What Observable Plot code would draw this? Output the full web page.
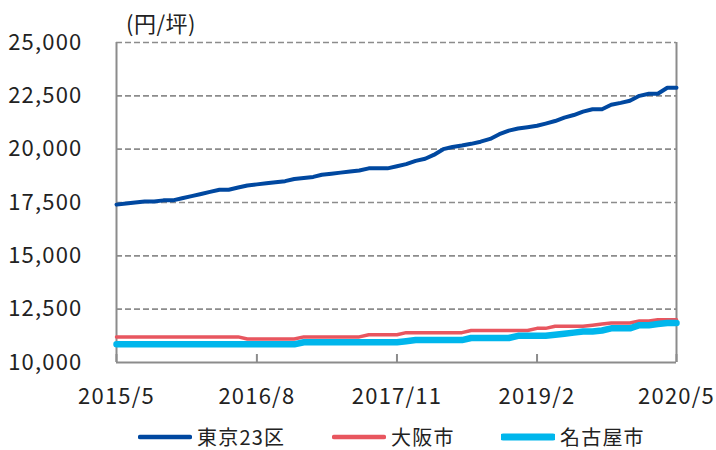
<!DOCTYPE html>
<html><head><meta charset="utf-8">
<script src="https://cdn.jsdelivr.net/npm/d3@7"></script>
<script src="https://cdn.jsdelivr.net/npm/@observablehq/plot@0.6"></script>
<style>
body{margin:0;background:#fff;font-family:"Noto Sans CJK JP",sans-serif;}
#wrap{position:relative;width:716px;height:450px;overflow:hidden;}
#unit{position:absolute;left:126px;top:11px;font-size:22px;line-height:1;color:#222;letter-spacing:0.5px;}
#legend{position:absolute;left:0;top:425px;width:716px;height:24px;font-size:20px;line-height:24px;color:#222;letter-spacing:1.2px;}
.item{position:absolute;top:0;height:24px;display:flex;align-items:center;gap:5px;white-space:nowrap;}
</style></head><body>
<div id="wrap"><div id="chart"></div><div id="unit">(円/坪)</div><div id="legend"></div></div>
<script>
const startMonth = "2015-05-01";
const monthCount = 61;
const seriesNames = ["東京23区", "大阪市", "名古屋市"];
const tokyo = [17400,17450,17500,17550,17550,17600,17600,17700,17800,17900,18000,18100,18100,18200,18300,18350,18400,18450,18500,18600,18650,18700,18800,18850,18900,18950,19000,19100,19100,19100,19200,19300,19450,19550,19730,20000,20100,20170,20250,20350,20480,20700,20870,20970,21030,21100,21200,21320,21480,21600,21760,21870,21870,22080,22170,22270,22500,22600,22600,22880,22880];
const osaka = [11200,11200,11200,11200,11200,11200,11200,11200,11200,11200,11200,11200,11200,11200,11100,11100,11100,11100,11100,11100,11200,11200,11200,11200,11200,11200,11200,11300,11300,11300,11300,11400,11400,11400,11400,11400,11400,11400,11500,11500,11500,11500,11500,11500,11500,11600,11600,11700,11700,11700,11700,11750,11800,11850,11850,11850,11950,11950,12000,12000,12000];
const nagoya = [10850,10850,10850,10850,10850,10850,10850,10850,10850,10850,10850,10850,10850,10850,10850,10850,10850,10850,10850,10850,10950,10950,10950,10950,10950,10950,10950,10950,10950,10950,10950,11000,11050,11050,11050,11050,11050,11050,11150,11150,11150,11150,11150,11250,11250,11250,11250,11300,11350,11400,11450,11450,11500,11600,11600,11600,11750,11750,11800,11850,11850];
const yTicks = [10000,12500,15000,17500,20000,22500,25000];
const xTickLabels = ["2015/5","2016/8","2017/11","2019/2","2020/5"];
const colors = ["#0048a0","#e8565f","#00b6ec"];
const widths = [4, 3.5, 6.5];
const legendLeft = [138, 332, 501];

const start = new Date(startMonth + "T00:00:00Z");
const dates = d3.utcMonth.range(start, d3.utcMonth.offset(start, monthCount));
const xTickDates = xTickLabels.map(s => { const [y, m] = s.split("/").map(Number); return new Date(Date.UTC(y, m - 1, 1)); });
const valuesBySeries = [tokyo, osaka, nagoya];
const rows = valuesBySeries.flatMap((vals, k) => vals.map((v, i) => ({date: dates[i], value: v, series: seriesNames[k]})));

const gray = "#8c8c8c";
const chart = Plot.plot({
  width: 716, height: 410,
  marginLeft: 116, marginRight: 40, marginTop: 42, marginBottom: 48,
  style: {fontFamily: '"Noto Sans CJK JP", sans-serif', fontSize: "22px", color: "#222", background: "#fff", letterSpacing: "1.2px"},
  x: {type: "utc", domain: [dates[0], dates[dates.length - 1]]},
  y: {domain: [yTicks[0], yTicks[yTicks.length - 1]]},
  marks: [
    Plot.gridY(yTicks.slice(1), {stroke: gray, strokeOpacity: 1, strokeWidth: 1.6, strokeDasharray: "6,3"}),
    Plot.ruleY([yTicks[0]], {stroke: gray, strokeWidth: 2}),
    Plot.ruleX([dates[0], dates[dates.length - 1]], {stroke: gray, strokeWidth: 2}),
    Plot.axisY(yTicks, {tickSize: 0, tickPadding: 34, tickFormat: d3.format(","), label: null, fontSize: 22}),
    Plot.axisX(xTickDates, {tickSize: 8, dy: -8, tickFormat: () => "", stroke: gray, strokeWidth: 2, label: null}),
    Plot.axisX(xTickDates, {tickSize: 0, tickPadding: 26, tickFormat: (d, i) => xTickLabels[i], label: null, fontSize: 22}),
    ...seriesNames.map((name, k) => Plot.line(rows.filter(r => r.series === name), {
      x: "date", y: "value", stroke: colors[k], strokeWidth: widths[k], strokeLinejoin: "round"
    }))
  ]
});
document.getElementById("chart").appendChild(chart);

const legend = document.getElementById("legend");
seriesNames.forEach((name, k) => {
  const item = document.createElement("div");
  item.className = "item";
  item.style.left = legendLeft[k] + "px";
  item.innerHTML = `<svg width="54" height="12"><line x1="2" x2="52" y1="6" y2="6" stroke="${colors[k]}" stroke-width="${k === 2 ? 7 : 4.5}" stroke-linecap="round"/></svg><span>${name}</span>`;
  legend.appendChild(item);
});
</script>
</body></html>
